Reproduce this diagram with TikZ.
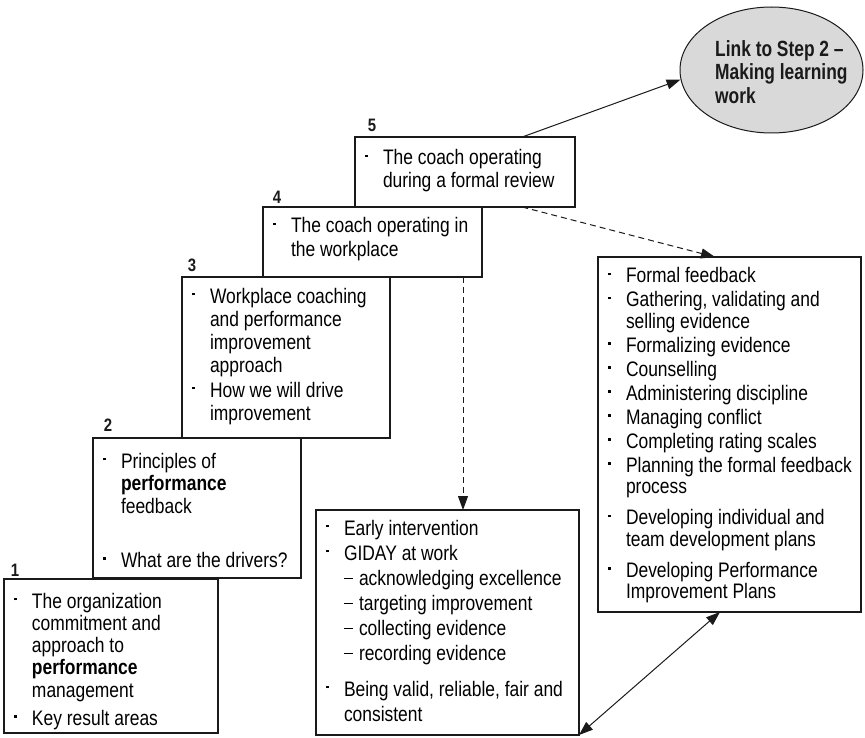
\documentclass[tikz,border=0pt]{standalone}
\usepackage{fontspec}
\setmainfont{Liberation Sans}[FakeStretch=0.83]
\newfontfamily\ovalfont{Liberation Sans}[FakeStretch=0.79]
\usetikzlibrary{arrows.meta,shapes.geometric,calc}

\definecolor{ovalfill}{HTML}{D9D9D9}
\definecolor{ink}{HTML}{1A1A1A}

\newlength\itemgap
% square bullet hanging in the left margin
\newcommand{\bul}{\noindent\llap{\raisebox{7.6pt}{\rule{2.8pt}{2.8pt}}\hskip 15.5pt}\ignorespaces}
\newcommand{\itm}{\par\vspace{\itemgap}\bul}
% dashed sub-item
\newcommand{\subitm}{\par\noindent\hskip 15pt\llap{\raisebox{6pt}{\rule{9pt}{0.7pt}}\hskip 6pt}\ignorespaces}
% #1 width, #2 height, #3 first baseline, #4 baselineskip, #5 item gap, #6 text
\newcommand{\boxbody}[6]{%
  \parbox[t][#2][t]{#1}{%
    \fontsize{21pt}{#4}\selectfont
    \baselineskip=#4\relax
    \lineskiplimit=-100pt \lineskip=0pt
    \leftskip=28pt \rightskip=-40pt plus 1fil \parfillskip=0pt plus 1fil
    \setlength\itemgap{#5}%
    \vspace*{\dimexpr #3-16pt\relax}%
    \bul\rule{0pt}{16pt}#6\par}}

\tikzset{
  stepbox/.style={draw=ink, line width=1.1pt, inner sep=0pt, outer sep=0pt, anchor=north west},
  steplabel/.style={font=\bfseries\fontsize{18pt}{18pt}\selectfont, text=ink, inner sep=0pt},
  arr/.style={draw=ink, line width=1pt, -{Triangle[length=14pt,width=10pt]}},
  dasharr/.style={arr, dash pattern=on 6pt off 4pt},
  dblarr/.style={draw=ink, line width=1pt, {Triangle[length=14pt,width=10pt]}-{Triangle[length=14pt,width=10pt]}},
}

\begin{document}
\begin{tikzpicture}[x=1pt, y=-1pt]
\useasboundingbox (0,0) rectangle (865,738);

% the staircase of steps
\node[stepbox] (b1) at (4,579) {\boxbody{214pt}{154pt}{29pt}{22.3pt}{5.7pt}{%
  The organization\\commitment and\\approach to\\\textbf{performance}\\management\itm Key result areas}};
\node[stepbox] (b2) at (93,438) {\boxbody{208pt}{140pt}{30pt}{22.6pt}{31.5pt}{%
  Principles of\\\textbf{performance}\\feedback\itm What are the drivers?}};
\node[stepbox] (b3) at (182,277) {\boxbody{208pt}{161pt}{26pt}{23pt}{2pt}{%
  Workplace coaching\\and performance\\improvement\\approach\itm How we will drive\\improvement}};
\node[stepbox] (b4) at (263,207) {\boxbody{219pt}{70pt}{26pt}{24pt}{0pt}{%
  The coach operating in\\the workplace}};
\node[stepbox] (b5) at (355,137) {\boxbody{220pt}{70pt}{28pt}{23pt}{0pt}{%
  The coach operating\\during a formal review}};

% step numbers
\node[steplabel] (l1) at (15,570) {1};
\node[steplabel] (l2) at (108,425) {2};
\node[steplabel] (l3) at (192,265) {3};
\node[steplabel] (l4) at (277,197) {4};
\node[steplabel] (l5) at (372,125) {5};

% workplace coaching detail
\node[stepbox] (mid) at (316,510) {\boxbody{263pt}{225pt}{25pt}{25pt}{0pt}{%
  Early intervention\itm GIDAY at work%
  \subitm acknowledging excellence\subitm targeting improvement%
  \subitm collecting evidence\subitm recording evidence%
  \par\vspace{11pt}\bul Being valid, reliable, fair and\\consistent}};

% formal review detail
\node[stepbox] (rb) at (598,257) {\boxbody{263pt}{355pt}{26pt}{21.5pt}{2.5pt}{%
  Formal feedback\itm Gathering, validating and\\selling evidence\itm Formalizing evidence%
  \itm Counselling\itm Administering discipline\itm Managing conflict%
  \itm Completing rating scales\itm Planning the formal feedback\\process%
  \par\vspace{9.5pt}\bul Developing individual and\\team development plans%
  \par\vspace{9.5pt}\bul Developing Performance\\Improvement Plans}};

% link to the next step
\node[ellipse, draw=ink, line width=1pt, fill=ovalfill, minimum width=183pt, minimum height=126pt] (link) at (771.5,70) {};
\node[anchor=north west, align=left, inner sep=0pt, text=ink,
      font=\ovalfont\bfseries\fontsize{22pt}{23.5pt}\selectfont] (linktxt) at (715,40)
  {Link to Step 2 –\\Making learning\\work};

% connectors
\draw[arr] ($(b5.north west)!0.76!(b5.north east)$) -- (link.186);
\draw[dasharr] ($(b5.south west)!0.76!(b5.south east)$) -- ($(rb.north west)+(117,0)$);
\draw[dasharr] ($(b4.south west)+(200,0)$) coordinate (d4) -- (d4 |- mid.north);
\draw[dblarr] (mid.south east) -- ($(rb.south west)+(122,0)$);
\end{tikzpicture}
\end{document}
